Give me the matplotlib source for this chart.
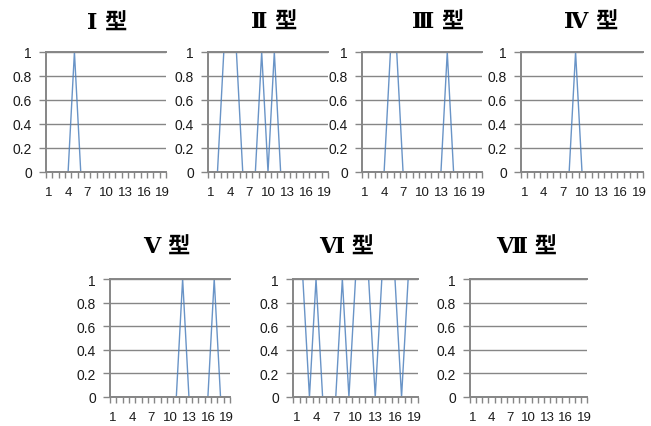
import matplotlib
matplotlib.use("Agg")
import matplotlib.pyplot as plt
from matplotlib.ticker import FixedLocator, NullFormatter

categories = list(range(1, 20))
xtick_labels = [1, 4, 7, 10, 13, 16, 19]
ytick_values = [0, 0.2, 0.4, 0.6, 0.8, 1]
ytick_labels = ["0", "0.2", "0.4", "0.6", "0.8", "1"]

titles = ["Ⅰ 型", "Ⅱ 型", "Ⅲ 型", "Ⅳ 型", "Ⅴ 型", "Ⅵ 型", "Ⅶ 型"]

type1 = [0, 0, 0, 0, 1, 0, 0, 0, 0, 0, 0, 0, 0, 0, 0, 0, 0, 0, 0]
type2 = [0, 0, 1, 1, 1, 0, 0, 0, 1, 0, 1, 0, 0, 0, 0, 0, 0, 0, 0]
type3 = [0, 0, 0, 0, 1, 1, 0, 0, 0, 0, 0, 0, 0, 1, 0, 0, 0, 0, 0]
type4 = [0, 0, 0, 0, 0, 0, 0, 0, 1, 0, 0, 0, 0, 0, 0, 0, 0, 0, 0]
type5 = [0, 0, 0, 0, 0, 0, 0, 0, 0, 0, 0, 1, 0, 0, 0, 0, 1, 0, 0]
type6 = [1, 1, 0, 1, 0, 0, 0, 1, 0, 1, 1, 1, 0, 1, 1, 1, 0, 1, 1]
type7 = [0] * 19

series = [type1, type2, type3, type4, type5, type6, type7]

W, H = 651, 427
fig = plt.figure(figsize=(W / 100, H / 100), dpi=100)
fig.patch.set_facecolor("white")

# plot areas in pixels: (left, right, top, bottom)
boxes = [
    (46, 166, 53, 173),
    (208, 328, 53, 173),
    (362, 482, 53, 173),
    (521, 643, 53, 173),
    (110, 230, 280, 398),
    (293, 418, 280, 398),
    (470, 587, 280, 398),
]
title_pos = [(107, 24), (274, 23), (438, 23), (591, 23), (167, 248), (347, 248), (527, 248)]

grid_c = "#868686"
line_c = "#4F81BD"

for vals, box, title, tp in zip(series, boxes, titles, title_pos):
    l, r, t, b = box
    ax = fig.add_axes([l / W, (H - b) / H, (r - l) / W, (b - t) / H])
    ax.plot(categories, vals, color=line_c, lw=1.0, alpha=0.85, zorder=2, clip_on=True)
    ax.set_xlim(0.5, 19.5)
    ax.set_ylim(0, 1)
    ax.set_yticks(ytick_values)
    ax.set_yticklabels(ytick_labels)
    ax.set_xticks(xtick_labels)
    ax.set_xticklabels([str(v) for v in xtick_labels])
    ax.xaxis.set_minor_locator(FixedLocator([c + 0.5 for c in [0] + categories]))
    ax.xaxis.set_minor_formatter(NullFormatter())
    ax.tick_params(axis="x", which="major", length=0, pad=10, labelsize=9.5)
    ax.tick_params(axis="x", which="minor", length=4, color=grid_c, width=1, direction="out")
    ax.tick_params(axis="y", which="major", length=5, color=grid_c, width=1, labelsize=10, pad=5)
    for lab in ax.get_xticklabels() + ax.get_yticklabels():
        lab.set_fontfamily("Liberation Sans")
        lab.set_color("#1a1a1a")
    ax.grid(axis="y", color=grid_c, lw=1, zorder=1)
    ax.set_axisbelow(True)
    ax.axhline(1, color=grid_c, lw=1.4, zorder=4, clip_on=False)
    for s in ["top", "right"]:
        ax.spines[s].set_visible(False)
    for s in ["left", "bottom"]:
        ax.spines[s].set_color(grid_c)
        ax.spines[s].set_linewidth(1.4)
        ax.spines[s].set_zorder(5)
    fig.text(tp[0] / W, 1 - tp[1] / H, title, ha="center", va="center",
             fontsize=16, fontweight="bold",
             family=["DejaVu Serif", "Noto Sans CJK SC"])

fig.savefig("out.png", dpi=100, facecolor="white")
